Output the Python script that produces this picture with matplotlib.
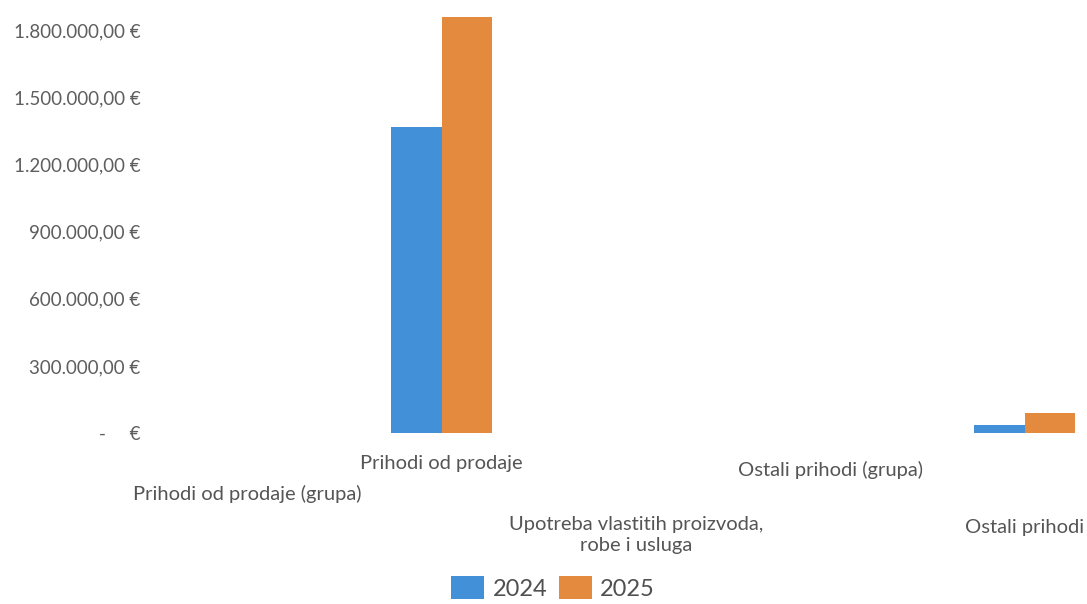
import matplotlib
matplotlib.use("Agg")
import matplotlib.pyplot as plt
import matplotlib.transforms as mtransforms
from matplotlib.patches import Patch

categories = ["Prihodi od prodaje (grupa)", "Prihodi od prodaje",
              "Upotreba vlastitih proizvoda,\nrobe i usluga",
              "Ostali prihodi (grupa)", "Ostali prihodi"]
values_2024 = [0, 1370000, 0, 0, 36000]
values_2025 = [0, 1860000, 0, 0, 90000]
series_names = ["2024", "2025"]
y_ticks = [0, 300000, 600000, 900000, 1200000, 1500000, 1800000]

plt.rcParams['font.family'] = ['Lato', 'DejaVu Sans']

W, H = 1087, 604
fig = plt.figure(figsize=(W / 100, H / 100), dpi=100)
fig.patch.set_facecolor('white')
left_px, bottom_px, top_px = 150, 433, 8
ax = fig.add_axes([left_px / W, (H - bottom_px) / H, (W - left_px) / W, (bottom_px - top_px) / H])

c24, c25 = '#4190D8', '#E48A3E'
bw = 0.26
x = list(range(len(categories)))
ax.bar([i - bw / 2 for i in x], values_2024, width=bw, color=c24)
ax.bar([i + bw / 2 for i in x], values_2025, width=bw, color=c25)

ax.set_xlim(-0.5, 4.32)
ax.set_ylim(0, 1900000)
for s in ax.spines.values():
    s.set_visible(False)
ax.set_xticks([])
ax.set_yticks(y_ticks)


def fmt(v):
    if v == 0:
        return "-     €"
    s = f"{v:,.2f}".replace(",", "X").replace(".", ",").replace("X", ".")
    return s + " €"


ax.set_yticklabels([fmt(v) for v in y_ticks], fontsize=13.5, color='#5e5e5e')
ax.tick_params(axis='y', length=0, pad=7)

# staggered category labels (pixel rows from top)
label_rows = [494, 463, 535, 470, 527]
trans = mtransforms.blended_transform_factory(ax.transData, fig.transFigure)
for i, (cat, row) in enumerate(zip(categories, label_rows)):
    ax.text(i, (H - row) / H, cat, transform=trans, ha='center', va='center',
            fontsize=14.5, color='#555555', linespacing=1.25, clip_on=False)

handles = [Patch(facecolor=c24, label=series_names[0]),
           Patch(facecolor=c25, label=series_names[1])]
fig.legend(handles=handles, loc='center', bbox_to_anchor=(553 / W, (H - 588) / H),
           ncol=2, frameon=False, fontsize=17, handlelength=1.4, handleheight=1.1,
           handletextpad=0.35, columnspacing=0.5, labelcolor='#505050')

fig.savefig("out.png", dpi=100)
